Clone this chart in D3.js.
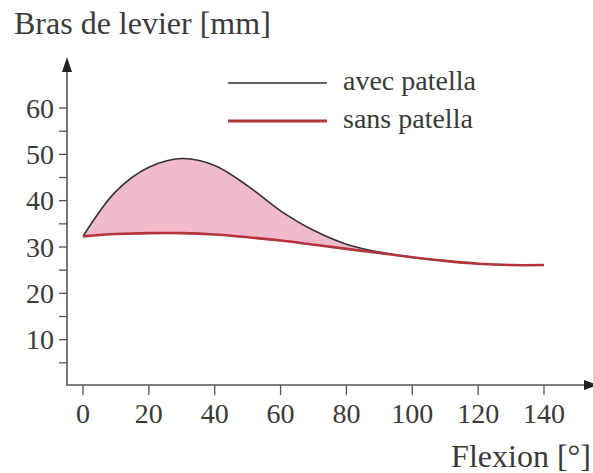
<!DOCTYPE html>
<html>
<head>
<meta charset="utf-8">
<script src="https://cdn.jsdelivr.net/npm/d3@7"></script>
<style>
  body { margin: 0; background: #fff; }
</style>
</head>
<body>
<div id="chart"></div>
<script>
// flexion angle (deg)
const flexion = [0, 10, 20, 30, 40, 50, 60, 70, 80, 90, 100, 110, 120, 130, 140];
// lever arm (mm)
const avecPatella = [32.3, 42.0, 47.2, 49.1, 47.6, 43.2, 37.8, 33.6, 30.6, 28.9, 27.8, 27.0, 26.4, 26.1, 26.1];
const sansPatella = [32.3, 32.8, 33.0, 33.0, 32.7, 32.1, 31.4, 30.5, 29.6, 28.7, 27.8, 27.0, 26.4, 26.1, 26.1];
const xTicks = [0, 20, 40, 60, 80, 100, 120, 140];
const yTicks = [10, 20, 30, 40, 50, 60];
const yMinor = [5, 15, 25, 35, 45, 55];
const legendItems = ["avec patella", "sans patella"];

const width = 593, height = 473;
const axisColor = "#555", redColor = "#b3343a", blackColor = "#333";
const serif = "'Liberation Serif', 'Times New Roman', serif";

const svg = d3.select("#chart").append("svg")
    .attr("width", width)
    .attr("height", height)
    .attr("font-family", serif);

const x = d3.scaleLinear().domain([0, 140]).range([83, 544]);
const y = d3.scaleLinear().domain([0, 60]).range([386, 108]);
const axisX = 67, axisY = 385;

const data = flexion.map((f, i) => ({f: f, a: avecPatella[i], s: sansPatella[i]}));
const curve = d3.curveCatmullRom.alpha(0.5);

// shaded region between the curves
const area = d3.area()
    .x(d => x(d.f))
    .y0(d => y(d.s))
    .y1(d => y(d.a))
    .curve(curve);
svg.append("path")
    .datum(data)
    .attr("d", area)
    .attr("fill", "#f0b3c4")
    .attr("opacity", 0.9);

const lineA = d3.line().x(d => x(d.f)).y(d => y(d.a)).curve(curve);
const lineS = d3.line().x(d => x(d.f)).y(d => y(d.s)).curve(curve);

svg.append("path").datum(data).attr("d", lineA)
    .attr("fill", "none").attr("stroke", blackColor).attr("stroke-width", 1.6);
svg.append("path").datum(data).attr("d", lineS)
    .attr("fill", "none").attr("stroke", redColor).attr("stroke-width", 2.6);

// axes
svg.append("line")
    .attr("x1", axisX).attr("y1", axisY).attr("x2", axisX).attr("y2", 66)
    .attr("stroke", axisColor).attr("stroke-width", 1.6);
svg.append("path")
    .attr("d", `M${axisX},57 L${axisX - 5},72 L${axisX + 5},72 Z`)
    .attr("fill", "#222");
svg.append("line")
    .attr("x1", axisX - 1).attr("y1", axisY).attr("x2", 590).attr("y2", axisY)
    .attr("stroke", axisColor).attr("stroke-width", 1.6);
svg.append("path")
    .attr("d", `M598,${axisY} L584,${axisY - 5} L584,${axisY + 5} Z`)
    .attr("fill", "#222");

// y ticks
svg.selectAll(".ytick")
    .data(yTicks.concat(yMinor))
    .join("line")
    .attr("x1", axisX - 8).attr("x2", axisX)
    .attr("y1", d => y(d)).attr("y2", d => y(d))
    .attr("stroke", axisColor).attr("stroke-width", 1.3);
svg.selectAll(".ylab")
    .data(yTicks)
    .join("text")
    .attr("x", 54)
    .attr("y", d => y(d))
    .attr("dy", "0.35em")
    .attr("text-anchor", "end")
    .attr("fill", "#3a3a3a")
    .style("font-size", "28px")
    .text(d => d);

// x ticks
svg.selectAll(".xtick")
    .data(xTicks)
    .join("line")
    .attr("x1", d => x(d)).attr("x2", d => x(d))
    .attr("y1", axisY).attr("y2", axisY + 10)
    .attr("stroke", axisColor).attr("stroke-width", 1.3);
svg.selectAll(".xlab")
    .data(xTicks)
    .join("text")
    .attr("x", d => x(d))
    .attr("y", 423)
    .attr("text-anchor", "middle")
    .attr("fill", "#3a3a3a")
    .style("font-size", "28px")
    .text(d => d);

// titles
svg.append("text").attr("x", 14).attr("y", 34)
    .attr("fill", "#3a3a3a")
    .style("font-size", "32px").text("Bras de levier [mm]");
svg.append("text").attr("x", 591).attr("y", 467)
    .attr("text-anchor", "end")
    .attr("fill", "#3a3a3a")
    .style("font-size", "32px").text("Flexion [°]");

// legend
const leg = svg.append("g");
legendItems.forEach((name, i) => {
    const ly = 83 + i * 38;
    leg.append("line")
        .attr("x1", 228).attr("x2", 327).attr("y1", ly).attr("y2", ly)
        .attr("stroke", i == 0 ? blackColor : redColor)
        .attr("stroke-width", i == 0 ? 1.6 : 3);
    leg.append("text")
        .attr("x", 343).attr("y", ly + 7)
        .attr("fill", "#3a3a3a")
        .style("font-size", "28px")
        .text(name);
});
</script>
</body>
</html>
